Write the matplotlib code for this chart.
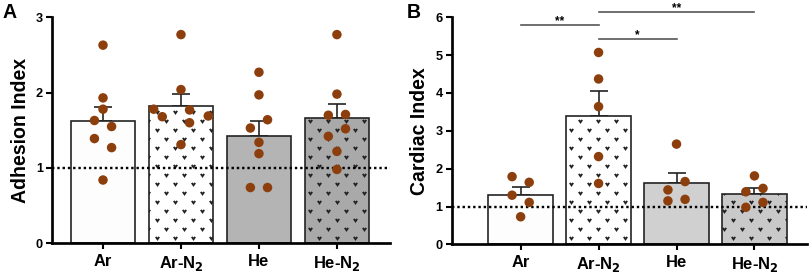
import numpy as np
import matplotlib
matplotlib.use('Agg')
import matplotlib.pyplot as plt
import matplotlib.hatch as mhatch
from matplotlib.path import Path

# ---- data ----
groups = ['Ar', 'Ar-N$_2$', 'He', 'He-N$_2$']

adhesion_mean = [1.62, 1.82, 1.42, 1.66]
adhesion_sem = [0.19, 0.16, 0.20, 0.19]
adhesion_pts = [
    [2.63, 1.93, 1.78, 1.63, 1.55, 1.39, 1.27, 0.84],
    [2.77, 2.04, 1.78, 1.68, 1.77, 1.69, 1.60, 1.31],
    [2.27, 1.97, 1.64, 1.53, 1.34, 1.19, 0.74, 0.74],
    [2.77, 1.98, 1.70, 1.71, 1.52, 1.42, 1.22, 0.98],
]
adhesion_dx = [
    [0, 0, 0, -0.11, 0.11, -0.11, 0.11, 0],
    [0, 0, -0.35, -0.24, 0.11, 0.35, 0.11, 0],
    [0, 0, 0.11, -0.11, 0, 0, -0.11, 0.11],
    [0, 0, -0.11, 0.11, 0.11, -0.11, 0, 0],
]

cardiac_mean = [1.30, 3.39, 1.61, 1.34]
cardiac_sem = [0.21, 0.66, 0.28, 0.16]
cardiac_pts = [
    [1.79, 1.64, 1.30, 1.11, 0.73],
    [5.07, 4.37, 3.64, 2.32, 1.61],
    [2.65, 1.66, 1.44, 1.15, 1.19],
    [1.81, 1.39, 1.48, 1.11, 0.98],
]
cardiac_dx = [
    [-0.11, 0.11, -0.11, 0.11, 0],
    [0, 0, 0, 0, 0],
    [0, 0.11, -0.11, -0.11, 0.11],
    [0, -0.11, 0.11, 0.11, -0.11],
]

# significance brackets (from, to, height, label)
sig_from = [0, 1, 1]
sig_to = [1, 2, 3]
sig_y = [5.80, 5.43, 6.15]
sig_lbl = ['**', '*', '**']


# ---- custom "v" hatch (replaces the star hatch) ----
class VHatch(mhatch.HatchPatternBase):
    def __init__(self, hatch, density):
        self.n = hatch.count('*')
        self.rows = 12
        self.cols = 6
        self.num_vertices = self.n and self.rows * self.cols * 3

    def set_vertices_and_codes(self, vertices, codes):
        w, h = 0.011, 0.008
        k = 0
        for r in range(self.rows):
            y = (r + 0.5) / self.rows
            off = 0.5 if r % 2 else 0.0
            for c in range(self.cols):
                x = (c + 0.25 + off) / self.cols
                vertices[k] = (x - w, y + h)
                vertices[k + 1] = (x, y - h)
                vertices[k + 2] = (x + w, y + h)
                codes[k] = Path.MOVETO
                codes[k + 1] = Path.LINETO
                codes[k + 2] = Path.LINETO
                k += 3


mhatch._hatch_types = [t for t in mhatch._hatch_types if t is not mhatch.Stars] + [VHatch]

plt.rcParams['font.family'] = ['Liberation Sans', 'DejaVu Sans']
plt.rcParams['font.weight'] = 'bold'
plt.rcParams['mathtext.default'] = 'bf'
plt.rcParams['hatch.linewidth'] = 1.2

DPI = 108
fig = plt.figure(figsize=(809 / DPI, 274 / DPI), dpi=DPI)
axA = fig.add_axes([0.0643, 0.112, 0.4177, 0.825])
axB = fig.add_axes([0.5583, 0.108, 0.4388, 0.829])

dot = '#8c3f0c'


def panel(ax, means, sems, pts, dxs, fills, ymax, ylabel, xlim):
    x = np.arange(len(groups))
    hatches = [None, '*', None, '*']
    for i in range(len(groups)):
        ax.bar(x[i], means[i], width=0.83, color=fills[i], edgecolor='#222222',
               linewidth=1.1, hatch=hatches[i], zorder=2)
        ax.errorbar(x[i], means[i], yerr=[[0], [sems[i]]], color='#222222',
                    capsize=6, elinewidth=1.1, capthick=1.1, zorder=1)
    ax.axhline(1, color='black', linestyle=(0, (1, 1.2)), linewidth=1.6, zorder=3)
    for i in range(len(groups)):
        ax.scatter(x[i] + np.array(dxs[i]), pts[i], s=40, color=dot,
                   edgecolor='none', zorder=4, clip_on=False)
    ax.set_xlim(xlim)
    ax.set_ylim(0, ymax)
    ax.set_yticks(range(ymax + 1))
    ax.set_xticks(x)
    ax.set_xticklabels(groups, fontsize=11, fontweight='bold')
    ax.tick_params(axis='y', labelsize=8.5, width=1.4, length=4, pad=2)
    ax.tick_params(axis='x', width=1.4, length=4, pad=3)
    for t in ax.get_yticklabels():
        t.set_fontweight('bold')
    for s in ['top', 'right']:
        ax.spines[s].set_visible(False)
    for s in ['left', 'bottom']:
        ax.spines[s].set_linewidth(1.8)
    ax.set_ylabel(ylabel, fontsize=13, fontweight='bold', labelpad=4)


panel(axA, adhesion_mean, adhesion_sem, adhesion_pts, adhesion_dx,
      ['#fdfdfd', '#ffffff', '#b4b4b4', '#a9a9a9'], 3, 'Adhesion Index', (-0.654, 3.68))
panel(axB, cardiac_mean, cardiac_sem, cardiac_pts, cardiac_dx,
      ['#fdfdfd', '#ffffff', '#d0d0d0', '#c9c9c9'], 6, 'Cardiac Index', (-0.885, 3.67))

for a, b, y, lbl in zip(sig_from, sig_to, sig_y, sig_lbl):
    axB.plot([a, b], [y, y], color='#555555', linewidth=1.1, clip_on=False)
    axB.text((a + b) / 2, y + 0.1, lbl, ha='center', va='center',
             fontsize=8, fontweight='bold', clip_on=False)

fig.text(0.003, 0.99, 'A', fontsize=13, fontweight='bold', va='top')
fig.text(0.503, 0.99, 'B', fontsize=13, fontweight='bold', va='top')

fig.savefig('out.png', dpi=DPI)
